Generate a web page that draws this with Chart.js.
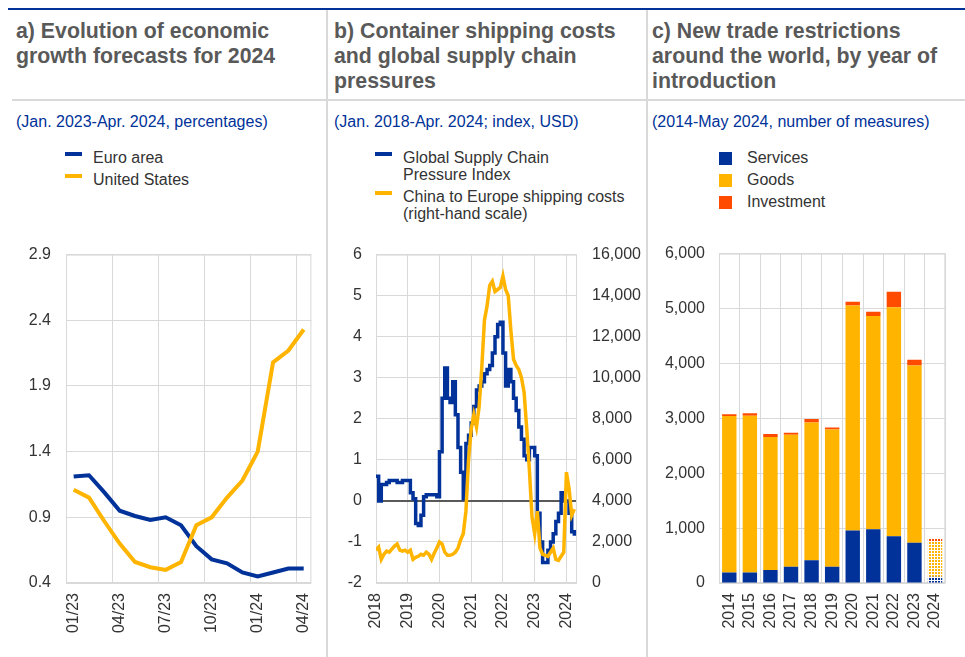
<!DOCTYPE html>
<html>
<head>
<meta charset="utf-8">
<script src="https://cdn.jsdelivr.net/npm/chart.js@4"></script>
<style>
    body {
        margin: 0;
        width: 965px;
        height: 657px;
        background: #fff;
        position: relative;
        overflow: hidden;
        font-family: 'Liberation Sans', Arial, sans-serif;
    }

    .rule-top { position: absolute; left: 8px; top: 8px; width: 957px; height: 2px; background: #003299; }
    .rule-mid { position: absolute; left: 12px; top: 99px; width: 953px; height: 2px; background: #d9d9d9; }
    .sep { position: absolute; top: 10px; width: 2px; height: 647px; background: #d9d9d9; }

    .title { position: absolute; top: 19px; font-weight: bold; font-size: 21.3px; line-height: 25px; color: #595959; white-space: nowrap; }
    .subtitle { position: absolute; top: 113px; font-size: 16px; line-height: 18px; color: #003299; white-space: nowrap; }

    .legend { position: absolute; top: 149px; font-size: 16px; line-height: 17px; color: #333; }
    .legend-item { position: relative; padding-left: 28px; margin-bottom: 5px; white-space: pre-line; }
    .legend-line { position: absolute; left: 0; top: 2.5px; width: 17px; height: 4px; }
    .legend-box { position: absolute; left: 0; top: 3px; width: 12.5px; height: 12.5px; }

    canvas { position: absolute; top: 230px; }
</style>
</head>
<body>
<div class="rule-top"></div>
<div class="rule-mid"></div>
<div class="sep" style="left: 326px"></div>
<div class="sep" style="left: 646px"></div>

<div class="title" style="left: 16px">a) Evolution of economic<br>growth forecasts for 2024</div>
<div class="title" style="left: 334px">b) Container shipping costs<br>and global supply chain<br>pressures</div>
<div class="title" style="left: 652px">c) New trade restrictions<br>around the world, by year of<br>introduction</div>

<div class="subtitle" style="left: 16px">(Jan. 2023-Apr. 2024, percentages)</div>
<div class="subtitle" style="left: 334px">(Jan. 2018-Apr. 2024; index, USD)</div>
<div class="subtitle" style="left: 652px">(2014-May 2024, number of measures)</div>

<div class="legend" id="legend-a" style="left: 65px"></div>
<div class="legend" id="legend-b" style="left: 375px"></div>
<div class="legend" id="legend-c" style="left: 719px"></div>

<canvas id="chart-a" width="326" height="420" style="left: 0px"></canvas>
<canvas id="chart-b" width="316" height="420" style="left: 330px"></canvas>
<canvas id="chart-c" width="315" height="420" style="left: 650px"></canvas>

<script>
// a) growth forecasts for 2024, monthly Jan 2023 - Apr 2024
let forecastMonths = ['01/23', '02/23', '03/23', '04/23', '05/23', '06/23', '07/23', '08/23',
    '09/23', '10/23', '11/23', '12/23', '01/24', '02/24', '03/24', '04/24'];
let euroArea = [1.21, 1.22, 1.09, 0.95, 0.91, 0.88, 0.90, 0.84, 0.68, 0.58, 0.55, 0.48, 0.45, 0.48, 0.51, 0.51];
let unitedStates = [1.11, 1.05, 0.87, 0.70, 0.56, 0.52, 0.50, 0.56, 0.84, 0.90, 1.05, 1.18, 1.40, 2.08, 2.17, 2.33];

// b) monthly from Jan 2018 to Apr 2024
let supplyStartYear = 2018;
let gscpi = [
    0.6, 0.0, 0.4, 0.4, 0.45, 0.5, 0.5, 0.5, 0.45, 0.45, 0.5, 0.5,
    0.5, 0.2, 0.05, -0.55, -0.6, -0.35, 0.1, 0.15, 0.15, 0.15, 0.15, 0.1,
    1.2, 2.5, 3.24, 2.5, 2.4, 2.9, 2.1, 1.3, 0.7, 0.05, 1.4, 1.6,
    1.9, 2.3, 2.7, 2.8, 2.9, 3.1, 3.2, 3.3, 3.6, 4.0, 4.3, 4.35,
    3.6, 2.8, 3.2, 2.9, 2.5, 2.2, 1.8, 1.5, 1.1, 1.0, 1.3, 1.3,
    1.1, -0.3, -1.0, -1.5, -1.5, -1.2, -1.0, -0.8, -0.5, -0.3, 0.2, 0.0,
    0.0, -0.3, -0.75, -0.85
];
let shippingCosts = [
    1600, 1750, 1150, 1400, 1550, 1500, 1650, 1800, 1900, 1600, 1550, 1600,
    1500, 1600, 1150, 1250, 1300, 1400, 1350, 1500, 1400, 1150, 1450, 1700,
    2000, 1900, 1500, 1350, 1350, 1400, 1500, 1700, 2100, 2400, 3500, 6000,
    7500, 8200, 7600, 8600, 10500, 12800, 13500, 14500, 14700, 14200, 14300, 14400,
    14950, 14300, 14000, 12300, 10900, 10600, 10400, 10000, 9300, 7500, 5500, 3200,
    2400, 3500, 1700, 1400, 1350, 1300, 1500, 1700, 1150, 1100, 1300, 1500,
    5400, 4600, 3300, 3600
];

// c) new trade restrictions by year
let tradeYears = ['2014', '2015', '2016', '2017', '2018', '2019', '2020', '2021', '2022', '2023', '2024'];
let partialYear = '2024';
let services = [190, 190, 236, 295, 414, 295, 957, 981, 851, 733, 115];
let goods = [2850, 2855, 2424, 2405, 2511, 2500, 4096, 3883, 4173, 3227, 650];
let investment = [35, 47, 53, 36, 60, 36, 71, 77, 283, 106, 55];

const blue = '#003299';
const yellow = '#ffb400';
const orange = '#ff4b00';
const gridColor = '#d9d9d9';
const zeroColor = '#595959';

Chart.defaults.font.family = "'Liberation Sans', Arial, sans-serif";
Chart.defaults.font.size = 16;
Chart.defaults.color = '#333';


const framePlugin = {
    id: 'frame',
    beforeDatasetsDraw(chart) {
        let area = chart.chartArea;
        let ctx = chart.ctx;
        ctx.save();
        ctx.strokeStyle = gridColor;
        ctx.lineWidth = 1;
        ctx.strokeRect(area.left + 0.5, area.top + 0.5, area.right - area.left - 1, area.bottom - area.top - 1);
        ctx.restore();
    }
};


function baseOptions(padding) {
    return {
        responsive: false,
        animation: false,
        devicePixelRatio: 1,
        layout: { padding: padding },
        plugins: { legend: { display: false }, tooltip: { enabled: false } }
    };
}


function xTicks() {
    return { autoSkip: false, minRotation: 90, maxRotation: 90, padding: 10 };
}


function fixWidth(w) {
    return function (scale) { scale.width = w; };
}


function fixHeight(h) {
    return function (scale) { scale.height = h; };
}


function withCommas(value) {
    return value.toLocaleString('en-US');
}


function makePattern(color) {
    let tile = document.createElement('canvas');
    tile.width = 3;
    tile.height = 3;
    let t = tile.getContext('2d');
    t.fillStyle = '#ffffff';
    t.fillRect(0, 0, 3, 3);
    t.fillStyle = color;
    t.fillRect(0, 0, 2, 2);
    return document.getElementById('chart-c').getContext('2d').createPattern(tile, 'repeat');
}


function barFill(color) {
    let pattern = makePattern(color);
    return function (ctx) {
        return tradeYears[ctx.dataIndex] === partialYear ? pattern : color;
    };
}


function renderLegend(id, items, type) {
    let html = '';
    for (let item of items) {
        html += `<div class="legend-item"><span class="legend-${type}" style="background:${item.color}"></span>${item.label}</div>`;
    }
    document.getElementById(id).innerHTML = html;
}


function chartA() {
    // months as 0..15, grid lines at the start of each quarter, labels shifted half a month
    let quarterStarts = forecastMonths.map((m, i) => i).filter(i => i % 3 === 0).map(i => i - 0.5);

    let options = baseOptions({ top: 15, right: 12 });
    options.scales = {
        x: {
            type: 'linear',
            min: -0.5,
            max: forecastMonths.length - 0.5,
            grid: { color: gridColor, drawTicks: false },
            border: { display: false },
            ticks: Object.assign(xTicks(), {
                labelOffset: 7.75,
                callback: v => forecastMonths[v + 0.5]
            }),
            afterBuildTicks: scale => { scale.ticks = quarterStarts.map(v => ({ value: v })); },
            afterFit: fixHeight(67)
        },
        y: {
            min: 0.4,
            max: 2.9,
            ticks: { stepSize: 0.5, padding: 15 },
            grid: { color: gridColor, drawTicks: false },
            border: { display: false },
            afterFit: fixWidth(66)
        }
    };

    new Chart(document.getElementById('chart-a'), {
        type: 'line',
        data: {
            datasets: [
                { label: 'Euro area', data: euroArea.map((v, i) => ({ x: i, y: v })),
                  borderColor: blue, borderWidth: 4, pointRadius: 0, order: 1 },
                { label: 'United States', data: unitedStates.map((v, i) => ({ x: i, y: v })),
                  borderColor: yellow, borderWidth: 4, pointRadius: 0, order: 0 }
            ]
        },
        options: options,
        plugins: [framePlugin]
    });

    renderLegend('legend-a', [
        { label: 'Euro area', color: blue },
        { label: 'United States', color: yellow }
    ], 'line');
}


function chartB() {
    let gscpiPoints = gscpi.map((v, i) => ({ x: supplyStartYear + i / 12, y: v }));
    let shippingPoints = shippingCosts.map((v, i) => ({ x: supplyStartYear + i / 12, y: v }));

    let options = baseOptions({ top: 15 });
    options.scales = {
        x: {
            type: 'linear',
            min: 2018,
            max: 2024 + 4 / 12,
            grid: { color: gridColor, drawTicks: false },
            border: { display: false },
            ticks: Object.assign(xTicks(), { stepSize: 1, includeBounds: false, callback: v => String(v) }),
            afterFit: fixHeight(67)
        },
        y: {
            position: 'left',
            min: -2,
            max: 6,
            ticks: { stepSize: 1, padding: 14 },
            grid: {
                drawTicks: false,
                color: ctx => ctx.tick && ctx.tick.value === 0 ? zeroColor : gridColor,
                lineWidth: ctx => ctx.tick && ctx.tick.value === 0 ? 2 : 1
            },
            border: { display: false },
            afterFit: fixWidth(46)
        },
        y1: {
            position: 'right',
            min: 0,
            max: 16000,
            ticks: { stepSize: 2000, padding: 15, callback: withCommas },
            grid: { drawOnChartArea: false, drawTicks: false },
            border: { display: false },
            afterFit: fixWidth(69)
        }
    };

    new Chart(document.getElementById('chart-b'), {
        type: 'line',
        data: {
            datasets: [
                { label: 'Global Supply Chain Pressure Index', data: gscpiPoints, yAxisID: 'y',
                  borderColor: blue, borderWidth: 3.5, pointRadius: 0, stepped: true, order: 1 },
                { label: 'China to Europe shipping costs (right-hand scale)', data: shippingPoints, yAxisID: 'y1',
                  borderColor: yellow, borderWidth: 3.5, pointRadius: 0, order: 0 }
            ]
        },
        options: options,
        plugins: [framePlugin]
    });

    renderLegend('legend-b', [
        { label: 'Global Supply Chain\nPressure Index', color: blue },
        { label: 'China to Europe shipping costs\n(right-hand scale)', color: yellow }
    ], 'line');
}


function chartC() {
    let options = baseOptions({ top: 15, right: 17 });
    options.datasets = { bar: { categoryPercentage: 0.7, barPercentage: 1 } };
    options.scales = {
        x: {
            stacked: true,
            grid: { color: gridColor, drawTicks: false },
            border: { display: false },
            ticks: xTicks(),
            afterFit: fixHeight(67)
        },
        y: {
            stacked: true,
            min: 0,
            max: 6000,
            ticks: { stepSize: 1000, padding: 14, callback: withCommas },
            grid: { color: gridColor, drawTicks: false },
            border: { display: false },
            afterFit: fixWidth(69)
        }
    };

    new Chart(document.getElementById('chart-c'), {
        type: 'bar',
        data: {
            labels: tradeYears,
            datasets: [
                { label: 'Services', data: services, backgroundColor: barFill(blue) },
                { label: 'Goods', data: goods, backgroundColor: barFill(yellow) },
                { label: 'Investment', data: investment, backgroundColor: barFill(orange) }
            ]
        },
        options: options,
        plugins: [framePlugin]
    });

    renderLegend('legend-c', [
        { label: 'Services', color: blue },
        { label: 'Goods', color: yellow },
        { label: 'Investment', color: orange }
    ], 'box');
}


chartA();
chartB();
chartC();
</script>
</body>
</html>
